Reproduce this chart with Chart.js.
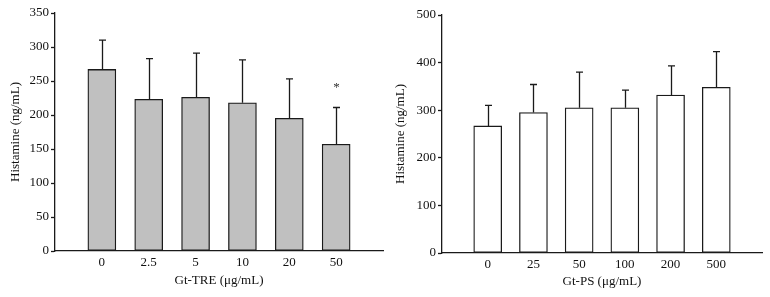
<!DOCTYPE html>
<html>
<head>
<meta charset="utf-8">
<script src="https://cdn.jsdelivr.net/npm/chart.js@4/dist/chart.umd.min.js"></script>
<style>
html,body{margin:0;padding:0;background:#fff;}
#wrap{position:relative;width:770px;height:297px;}
.box{position:absolute;top:0;height:297px;}
#b1{left:0;width:385px;}
#b2{left:385px;width:385px;}
</style>
</head>
<body>
<div id="wrap">
<div class="box" id="b1"><canvas id="c1" width="385" height="297"></canvas></div>
<div class="box" id="b2"><canvas id="c2" width="385" height="297"></canvas></div>
</div>
<script>
// ---- data ----
const treLabels = ['0', '2.5', '5', '10', '20', '50'];
const treMeans  = [267, 223, 226, 218, 195, 157];
const treSD     = [43, 60, 65, 63, 58, 54];
const treSig    = ['', '', '', '', '', '*'];

const psLabels  = ['0', '25', '50', '100', '200', '500'];
const psMeans   = [267, 295, 305, 305, 332, 348];
const psSD      = [43, 59, 75, 37, 61, 75];
const psSig     = ['', '', '', '', '', ''];

const yTicksLeft  = [0, 50, 100, 150, 200, 250, 300, 350];
const yTicksRight = [0, 100, 200, 300, 400, 500];

const FONT = "'Liberation Serif', 'DejaVu Serif', serif";

const errorBarPlugin = {
  id: 'errorBars',
  afterDatasetsDraw(chart, args, opts) {
    const ctx = chart.ctx;
    const xs = chart.scales.x, ys = chart.scales.y;
    ctx.save();
    ctx.strokeStyle = '#1a1a1a';
    ctx.lineWidth = 1.3;
    opts.means.forEach((m, i) => {
      const x = Math.round(xs.getPixelForValue(i)) + 0.5;
      const y0 = ys.getPixelForValue(m);
      const y1 = ys.getPixelForValue(m + opts.sd[i]);
      ctx.beginPath();
      ctx.moveTo(x, y0);
      ctx.lineTo(x, y1);
      ctx.moveTo(x - 3.5, y1);
      ctx.lineTo(x + 3.5, y1);
      ctx.stroke();
      if (opts.sig[i]) {
        ctx.fillStyle = '#333';
        ctx.font = '13px ' + FONT;
        ctx.textAlign = 'center';
        ctx.textBaseline = 'middle';
        ctx.fillText(opts.sig[i], x, y1 - 20);
      }
    });
    ctx.restore();
  }
};

function makeChart(id, labels, means, sd, sig, yTicks, yMax, fill, cfg) {
  const points = means.map((v, i) => ({x: i, y: v}));
  return new Chart(document.getElementById(id), {
    type: 'bar',
    data: {
      datasets: [{
        data: points,
        backgroundColor: fill,
        borderColor: '#1a1a1a',
        borderWidth: 1.3,
        barThickness: 28,
        borderSkipped: false
      }]
    },
    options: {
      responsive: false,
      animation: false,
      events: [],
      layout: {padding: {top: cfg.top, right: cfg.right, left: 0, bottom: 0}},
      plugins: {
        legend: {display: false},
        tooltip: {enabled: false},
        errorBars: {means: means, sd: sd, sig: sig}
      },
      scales: {
        x: {
          type: 'linear',
          offset: false,
          min: -1, max: labels.length,
          afterBuildTicks: s => { s.ticks = labels.map((l, i) => ({value: i})); },
          afterFit: s => { s.height = cfg.xh; },
          ticks: {
            autoSkip: false, maxRotation: 0,
            callback: v => labels[v] !== undefined ? labels[v] : '',
            color: '#111', font: {family: FONT, size: 13}, padding: 4
          },
          grid: {display: true, drawOnChartArea: false, drawTicks: false},
          border: {display: true, color: '#1a1a1a', width: 1.3},
          title: {display: true, text: cfg.xTitle, color: '#111',
                  font: {family: FONT, size: 13}, padding: {top: 1, bottom: cfg.tb}}
        },
        y: {
          min: 0, max: yMax,
          afterBuildTicks: s => { s.ticks = yTicks.map(v => ({value: v})); },
          afterFit: s => { s.width = cfg.yw; },
          ticks: {color: '#111', font: {family: FONT, size: 13}, padding: 2},
          grid: {display: true, drawOnChartArea: false, drawTicks: true, tickLength: 4, color: '#1a1a1a', tickWidth: 1.3},
          border: {display: true, color: '#1a1a1a', width: 1.3},
          title: {display: true, text: 'Histamine (ng/mL)', color: '#111',
                  font: {family: FONT, size: 13}, padding: {top: 8, bottom: 0}}
        }
      }
    },
    plugins: [errorBarPlugin]
  });
}

makeChart('c1', treLabels, treMeans, treSD, treSig, yTicksLeft, 350, '#c0c0c0',
  {top: 13, right: 2, xh: 46, yw: 55, tb: 9, xTitle: 'Gt-TRE (\u03bcg/mL)'});
makeChart('c2', psLabels, psMeans, psSD, psSig, yTicksRight, 500, '#ffffff',
  {top: 15, right: 8, xh: 44, yw: 57, tb: 8, xTitle: 'Gt-PS (\u03bcg/mL)'});
</script>
</body>
</html>
